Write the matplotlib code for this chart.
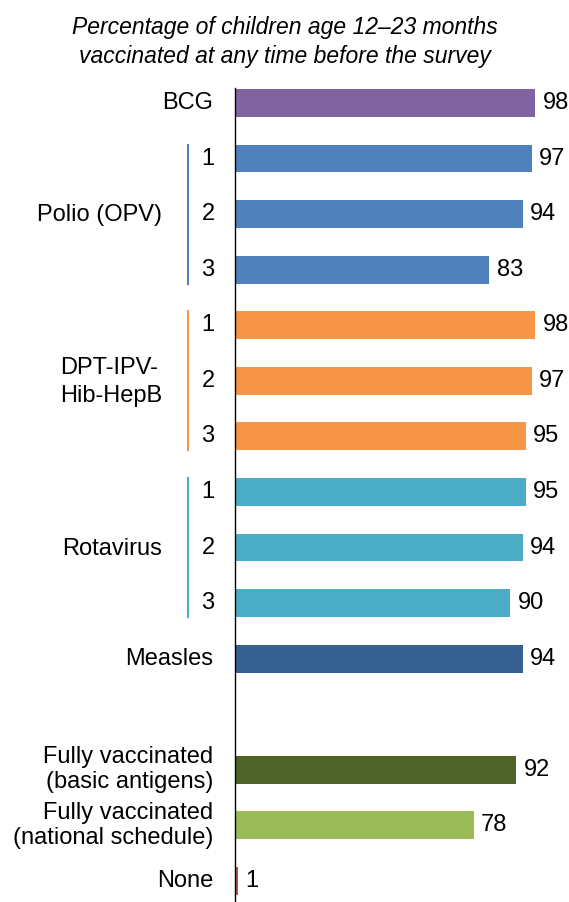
import numpy as np
import matplotlib.pyplot as plt

plt.rcParams['font.family'] = ['Liberation Sans', 'DejaVu Sans']

# дані
labels = ['BCG', '1', '2', '3', '1', '2', '3', '1', '2', '3', 'Measles',
          'Fully vaccinated\n(basic antigens)',
          'Fully vaccinated\n(national schedule)', 'None']
values = [98, 97, 94, 83, 98, 97, 95, 95, 94, 90, 94, 92, 78, 1]
positions = [0, 1, 2, 3, 4, 5, 6, 7, 8, 9, 10, 12, 13, 14]
colors = ['#8064A2', '#4F81BD', '#4F81BD', '#4F81BD',
          '#F79646', '#F79646', '#F79646',
          '#4BACC6', '#4BACC6', '#4BACC6',
          '#366092', '#4F6228', '#9BBB59', '#C0504D']
groups = ['Polio (OPV)', 'DPT-IPV-\nHib-HepB', 'Rotavirus']
group_rows = [(1, 3), (4, 6), (7, 9)]
group_colors = ['#4F81BD', '#F79646', '#4BACC6']

W, H = 569, 902
FS = 17
fig = plt.figure(figsize=(W / 100, H / 100), dpi=100)
ax = fig.add_axes([235 / W, 0, 1 - 235 / W, 1 - 88 / H])

ax.barh(positions, values, height=0.5, color=colors)
for p, v in zip(positions, values):
    ax.text(v + 2.5, p, str(v), va='center', ha='left', fontsize=FS)

ax.set_xlim(0, 109.2)
ax.set_ylim(14.38, -0.27)

# підписи категорій
for p, lab in zip(positions, labels):
    if lab in ('1', '2', '3'):
        ax.text(-8.8, p, lab, ha='center', va='center', fontsize=FS)
    else:
        ax.text(-7.2, p, lab, ha='right', va='center', fontsize=FS,
                linespacing=1.2)

# групи з вертикальними лініями
for g, (a, b), c in zip(groups, group_rows, group_colors):
    ax.plot([-15.4, -15.4], [a - 0.25, b + 0.25], color=c, lw=1.5,
            clip_on=False)
    ax.text(-23.8, (a + b) / 2 + 0.02, g, ha='right', va='center',
            fontsize=FS, linespacing=1.35, multialignment='left')

ax.set_xticks([])
ax.set_yticks([])
for s in ['top', 'right', 'bottom']:
    ax.spines[s].set_visible(False)
ax.spines['left'].set_linewidth(1.0)

fig.text(285 / W, 1 - 42 / H,
         'Percentage of children age 12\u201323 months\n'
         'vaccinated at any time before the survey',
         ha='center', va='center', style='italic', fontsize=16.5,
         linespacing=1.3)

fig.savefig('out.png', dpi=100)
